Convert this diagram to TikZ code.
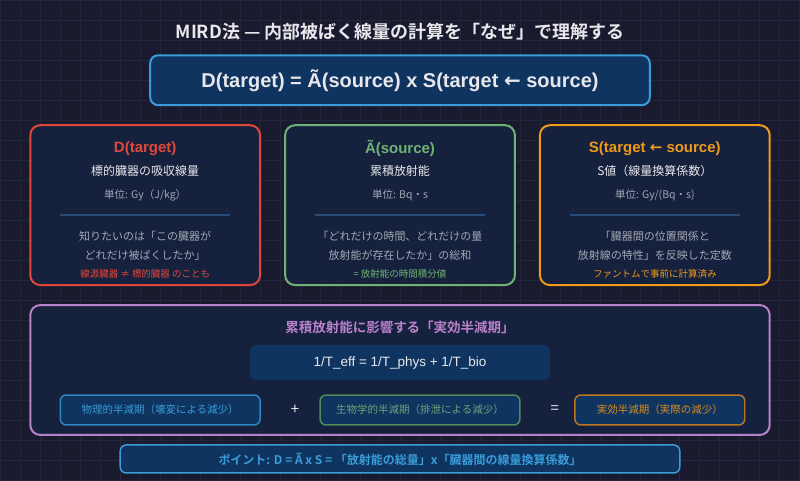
\documentclass[tikz,border=0pt]{standalone}
\usepackage{fontspec}
\setmainfont{Noto Sans CJK JP}[BoldFont={Noto Sans CJK JP Bold}]
\newfontfamily\latin{Liberation Sans}
\newfontfamily\arrowf{DejaVu Sans}
\newcommand{\larr}{{\arrowf ←}}
\definecolor{bgdark}{HTML}{1A1A2E}
\definecolor{gridc}{HTML}{23253B}
\definecolor{cardbg}{HTML}{16213E}
\definecolor{formbg}{HTML}{0F3460}
\definecolor{txtw}{HTML}{E8E8EC}
\definecolor{txtg}{HTML}{A3A7B3}
\definecolor{divc}{HTML}{2A4A78}
\definecolor{mblue}{HTML}{3A9CD8}
\definecolor{mred}{HTML}{E2473B}
\definecolor{mgreen}{HTML}{6FB374}
\definecolor{morange}{HTML}{EE9A1A}
\definecolor{mpurple}{HTML}{B982CB}
\definecolor{sblue}{HTML}{2F86C2}
\definecolor{sgreen}{HTML}{4F8E5C}
\definecolor{sorange}{HTML}{B9761E}
\definecolor{tgreen}{HTML}{6AA775}
\definecolor{torange}{HTML}{D78A1F}

\begin{document}
\begin{tikzpicture}[x=1pt, y=-1pt,
    card/.style={draw, line width=2pt, fill=cardbg, rounded corners=10pt, minimum width=230pt, minimum height=160pt},
    smallbox/.style={draw, line width=1.5pt, fill=formbg, rounded corners=6pt, minimum height=30pt, font=\fontsize{10.5}{12}\selectfont},
    txt/.style={inner sep=0pt, align=center},
    ctitle/.style={txt, font=\latin\bfseries\fontsize{15}{18}\selectfont},
    csub/.style={txt, text=txtw, font=\fontsize{12}{14}\selectfont},
    cunit/.style={txt, text=txtg, font=\fontsize{10.5}{12}\selectfont},
    cbody/.style={txt, text=txtg, font=\fontsize{11}{19.5}\selectfont},
    cfoot/.style={txt, font=\fontsize{9.5}{11}\selectfont},
    divider/.style={draw=divc, line width=2pt}]
    \fill[bgdark] (0,0) rectangle (800,480);
    \draw[gridc, line width=0.6pt, step=20pt] (0,0) grid (800,480);
    \useasboundingbox (0,0) rectangle (800,480);

    \node (title) at (400,31) [txt, text=txtw, font=\bfseries\fontsize{18}{21}\selectfont] {MIRD法 — 内部被ばく線量の計算を「なぜ」で理解する};
    \node (formula) at (400,80) [draw=mblue, line width=2pt, fill=formbg, rounded corners=8pt, minimum width=500pt, minimum height=50pt, text=txtw, font=\latin\bfseries\fontsize{20}{23}\selectfont] {D(target) = Ã(source) x S(target \larr{} source)};

    \node[card, draw=mred] (cardD) at (145,205) {};
    \node[ctitle, text=mred] (Dtitle) at (145,148) {D(target)};
    \node[csub] (Dsub) at (145,171) {標的臓器の吸収線量};
    \node[cunit] (Dunit) at (145,195) {単位: Gy（J/kg）};
    \draw[divider] (60,215) -- (230,215);
    \node[cbody] (Dbody) at (145,245.5) {知りたいのは「この臓器が\\どれだけ被ばくしたか」};
    \node[cfoot, text=mred] (Dfoot) at (145,274) {線源臓器 ≠ 標的臓器 のことも};

    \node[card, draw=mgreen] (cardA) at (400,205) {};
    \node[ctitle, text=mgreen] (Atitle) at (400,148) {Ã(source)};
    \node[csub] (Asub) at (400,171) {累積放射能};
    \node[cunit] (Aunit) at (400,195) {単位: Bq・s};
    \draw[divider] (315,215) -- (485,215);
    \node[cbody] (Abody) at (400,245.5) {「どれだけの時間、どれだけの量\\放射能が存在したか」の総和};
    \node[cfoot, text=mgreen] (Afoot) at (400,274) {= 放射能の時間積分値};

    \node[card, draw=morange] (cardS) at (655,205) {};
    \node[ctitle, text=morange] (Stitle) at (655,148) {S(target \larr{} source)};
    \node[csub] (Ssub) at (655,171) {S値（線量換算係数）};
    \node[cunit] (Sunit) at (655,195) {単位: Gy/(Bq・s)};
    \draw[divider] (570,215) -- (740,215);
    \node[cbody] (Sbody) at (655,245.5) {「臓器間の位置関係と\\放射線の特性」を反映した定数};
    \node[cfoot, text=morange] (Sfoot) at (655,274) {ファントムで事前に計算済み};

    \node (half) at (400,370) [draw=mpurple, line width=2pt, fill=cardbg, rounded corners=10pt, minimum width=740pt, minimum height=130pt] {};
    \node (halftitle) at (400,327) [txt, text=mpurple, font=\bfseries\fontsize{13.5}{16}\selectfont] {累積放射能に影響する「実効半減期」};
    \node (teff) at (400,362.5) [fill=formbg, rounded corners=6pt, minimum width=300pt, minimum height=35pt, text=txtw, font=\latin\fontsize{13.5}{16}\selectfont] {1/T\_eff = 1/T\_phys + 1/T\_bio};

    \node[smallbox, draw=sblue, text=mblue, minimum width=200pt] (phys) at (160,410) {物理的半減期（壊変による減少）};
    \node[txt, text=txtw, font=\fontsize{15}{17}\selectfont] (plus) at (295,410) {+};
    \node[smallbox, draw=sgreen, text=tgreen, minimum width=200pt] (bio) at (420,410) {生物学的半減期（排泄による減少）};
    \node[txt, text=txtw, font=\fontsize{15}{17}\selectfont] (eq) at (555,410) {=};
    \node[smallbox, draw=sorange, text=torange, minimum width=170pt] (eff) at (660,410) {実効半減期（実際の減少）};

    \node (point) at (400,459) [draw=mblue, line width=1.5pt, fill=formbg, rounded corners=6pt, minimum width=560pt, minimum height=28pt, text=mblue, font=\bfseries\fontsize{12}{14}\selectfont] {ポイント: D = Ã x S = 「放射能の総量」x「臓器間の線量換算係数」};
\end{tikzpicture}
\end{document}
